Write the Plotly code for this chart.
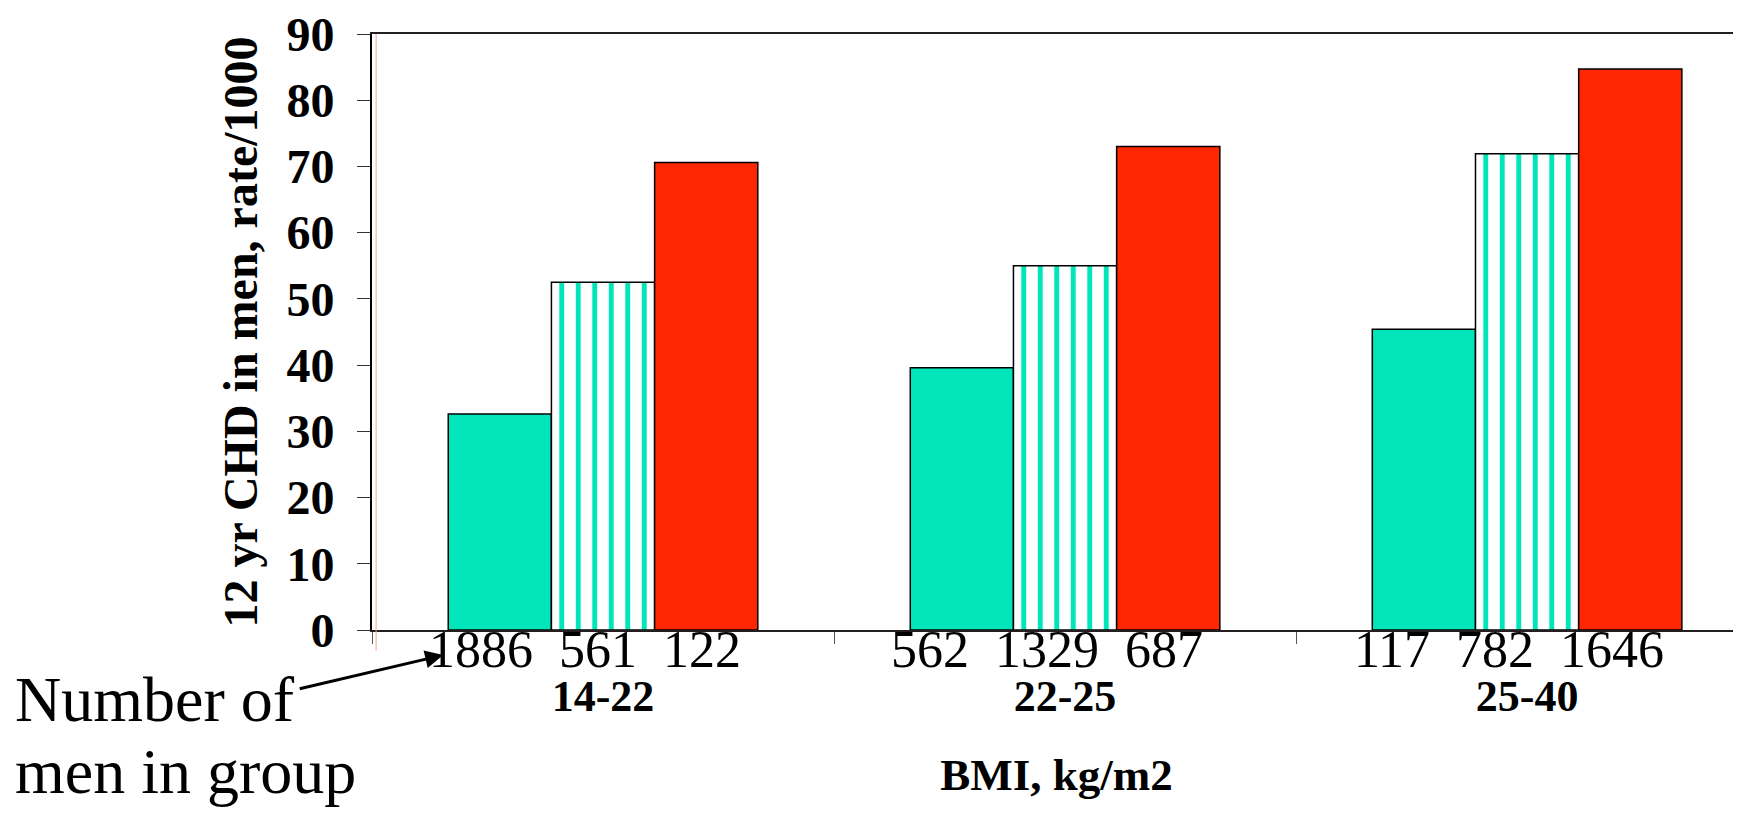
import plotly.graph_objects as go

# dados
grupos_imc = ['14-22', '22-25', '25-40']
taxa_baixa = [32.6, 39.6, 45.4]
taxa_media = [52.5, 55.0, 71.9]
taxa_alta = [70.6, 73.0, 84.7]
n_baixa = [1886, 562, 117]
n_media = [561, 1329, 782]
n_alta = [122, 687, 1646]
ticks_y = [0, 10, 20, 30, 40, 50, 60, 70, 80, 90]

fonte = 'Liberation Serif'
verde = '#00E5B9'
vermelho = '#FF2600'
bargap = 0.33

fig = go.Figure()

fig.add_trace(go.Bar(
    x=grupos_imc, y=taxa_baixa,
    marker=dict(color=verde, line=dict(color='black', width=1.5))
))

fig.add_trace(go.Bar(
    x=grupos_imc, y=taxa_media,
    marker=dict(color='white', line=dict(color='black', width=1.5),
                pattern=dict(shape='|', fgcolor=verde, bgcolor='white',
                             size=16.5, solidity=0.3, fillmode='replace'))
))

fig.add_trace(go.Bar(
    x=grupos_imc, y=taxa_alta,
    marker=dict(color=vermelho, line=dict(color='black', width=1.5))
))

# número de homens em cada grupo (uma linha de texto por grupo)
esp = '\u00a0\u00a0'
anotacoes = []
for g in range(len(grupos_imc)):
    texto = esp.join(str(n) for n in [n_baixa[g], n_media[g], n_alta[g]])
    anotacoes.append(dict(
        x=grupos_imc[g], xref='x', y=-0.033, yref='paper', xshift=-18,
        text=texto, showarrow=False, xanchor='center', yanchor='middle',
        font=dict(family=fonte, size=52, color='black')
    ))

# seta e texto explicativo
anotacoes.append(dict(
    x=0.052, y=-0.042, xref='paper', yref='paper',
    ax=-145, ay=34, axref='pixel', ayref='pixel',
    text='', showarrow=True, arrowhead=2, arrowsize=1.2, arrowwidth=3,
    arrowcolor='black'
))
for linha, ypos in [('Number of', -0.117), ('men in group', -0.238)]:
    anotacoes.append(dict(
        x=-0.262, y=ypos, xref='paper', yref='paper',
        text=linha, showarrow=False,
        xanchor='left', yanchor='middle', align='left',
        font=dict(family=fonte, size=64, color='black')
    ))

fig.update_layout(
    width=1733, height=807,
    margin=dict(l=364, r=0, t=21, b=185),
    plot_bgcolor='white', paper_bgcolor='white',
    barmode='group', bargap=bargap, bargroupgap=0,
    showlegend=False,
    annotations=anotacoes,
    shapes=[dict(type='line', xref='paper', yref='paper',
                 x0=0.003, x1=0.003, y0=-0.035, y1=1,
                 line=dict(color='#F4A6A0', width=1))],
    xaxis=dict(
        type='category', range=[-0.5, 2.463],
        showline=True, linecolor='#231F20', linewidth=2, mirror=True,
        ticks='outside', tickson='boundaries', ticklen=12, tickcolor='#555555',
        tickvals=grupos_imc, ticktext=['<b>' + g + '</b>' for g in grupos_imc],
        tickfont=dict(family=fonte, size=44, color='black'),
        ticklabelstandoff=26,
        title=dict(text='<b>BMI, kg/m2</b>', font=dict(family=fonte, size=45, color='black'),
                   standoff=39),
        showgrid=False, zeroline=False
    ),
    yaxis=dict(
        range=[0, 90],
        tickvals=ticks_y, ticktext=['<b>%d</b>' % v for v in ticks_y],
        showline=True, linecolor='black', linewidth=2,
        ticks='outside', ticklen=13, tickcolor='#333333',
        tickfont=dict(family=fonte, size=48, color='black'),
        ticklabelstandoff=13, ticklabeloverflow='allow',
        title=dict(text='<b>12 yr CHD in men, rate/1000</b>',
                   font=dict(family=fonte, size=48, color='black'), standoff=14),
        showgrid=False, zeroline=False
    )
)

fig.write_html('out.html')
